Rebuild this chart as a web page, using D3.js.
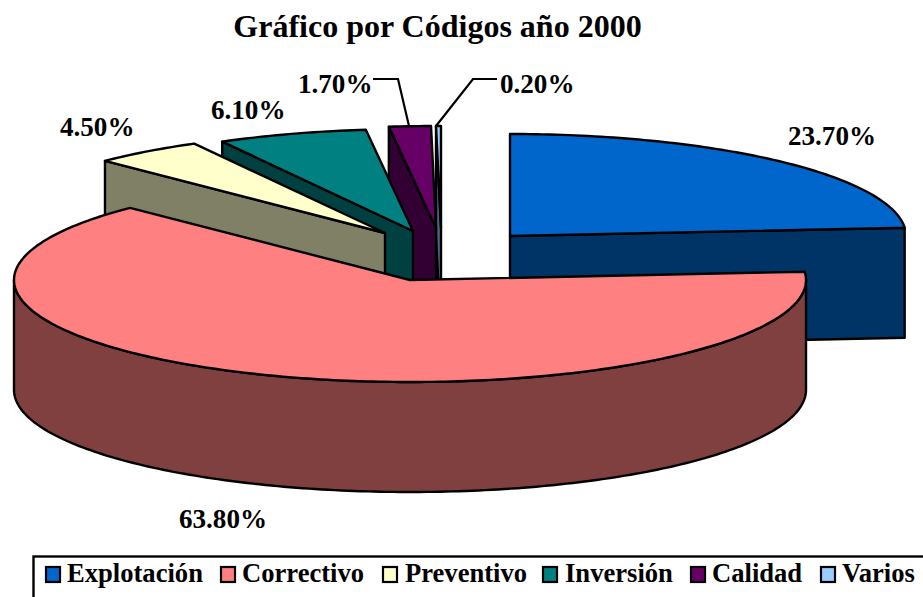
<!DOCTYPE html>
<html><head><meta charset="utf-8">
<script src="https://cdn.jsdelivr.net/npm/d3@7"></script>
<style>html,body{margin:0;padding:0;background:#fff}svg{display:block}
text{font-family:"Liberation Serif",serif;font-weight:bold;fill:#000}</style></head>
<body><svg id="c" width="923" height="597"></svg>
<script>
const categories = ["Explotación","Correctivo","Preventivo","Inversión","Calidad","Varios"];
const values = [23.7,63.8,4.5,6.1,1.7,0.2];
const valueLabels = ["23.70%","63.80%","4.50%","6.10%","1.70%","0.20%"];
const topColors = ["#0066CC","#FF8080","#FFFFCC","#008080","#660066","#99CCFF"];
const sideColors = ["#003366","#804040","#808066","#004040","#330033","#4D6680"];
const chartTitle = "Gráfico por Códigos año 2000";

// layout
const apexX = [510,410,385,413,436,441];
const apexY = [236,280,233,231,228,228];
const labelPos = [[788,145],[179,528],[60,136],[211,119],[298,93],[500,93]];
const legendSwatchX = [46,221,383,543,691,821];
const legendTextX = [67,242,405,565,712,842];
const rx = 396, ry = 102, depth = 110;

const svg = d3.select("#c");
const pie = d3.pie().sort(null).value(d=>d).startAngle(0).endAngle(2*Math.PI);
const arcs = pie(values);
const pt = (i,a,dy=0)=>[apexX[i]+rx*Math.sin(a), apexY[i]-ry*Math.cos(a)+dy];
const line = d3.line();
const rim = (i,a0,a1,dy=0)=>{
  const n=Math.max(2,Math.ceil(Math.abs(a1-a0)*60));
  return d3.range(n+1).map(k=>pt(i,a0+(a1-a0)*k/n,dy));
};
const sty = {stroke:"#000","stroke-width":2.4,"stroke-linejoin":"round"};
const draw = (d,fill)=>{
  const p=svg.append("path").attr("d",d).attr("fill",fill);
  Object.entries(sty).forEach(([k,v])=>p.attr(k,v));
  return p;
};
const QUARTER=Math.PI/2;

// cut-face wall from apex to the rim at angle a
const wall=(i,a)=>{
  const e=pt(i,a), e2=pt(i,a,depth);
  draw(line([[apexX[i],apexY[i]],e,e2,[apexX[i],apexY[i]+depth]])+"Z",sideColors[i]);
};
const topFace=(i)=>{
  const a=arcs[i];
  draw(line([[apexX[i],apexY[i]],...rim(i,a.startAngle,a.endAngle)])+"Z",topColors[i]);
};

// Explotación: front face is the cut at its end angle
wall(0,arcs[0].endAngle); topFace(0);
// back slices, far to near
[5,4,3,2].forEach(i=>{ wall(i,arcs[i].startAngle); topFace(i); });
// Correctivo: outer curved wall then top
draw(line([...rim(1,QUARTER,3*QUARTER),...rim(1,3*QUARTER,QUARTER,depth)])+"Z",sideColors[1]);
topFace(1);

// leader lines
const leaders=[[[373,79],[398,79],[409,126]],[[497,79],[473,79],[436,126]]];
leaders.forEach(l=>svg.append("path").attr("d",line(l)).attr("fill","none").attr("stroke","#000").attr("stroke-width",2.2));

// title
svg.append("text").attr("x",437.5).attr("y",37).attr("text-anchor","middle").attr("font-size",32).text(chartTitle);
// value labels
svg.selectAll(".v").data(valueLabels).join("text").attr("class","v")
  .attr("x",(d,i)=>labelPos[i][0]).attr("y",(d,i)=>labelPos[i][1]).attr("font-size",27.1).text(d=>d);
// legend
svg.append("rect").attr("x",33.5).attr("y",556.5).attr("width",905).attr("height",60)
  .attr("fill","#fff").attr("stroke","#000").attr("stroke-width",2.4);
categories.forEach((c,i)=>{
  svg.append("rect").attr("x",legendSwatchX[i]).attr("y",567).attr("width",14).attr("height",15)
    .attr("fill",topColors[i]).attr("stroke","#000").attr("stroke-width",2.2);
  svg.append("text").attr("x",legendTextX[i]).attr("y",582).attr("font-size",26.6).text(c);
});
</script></body></html>
